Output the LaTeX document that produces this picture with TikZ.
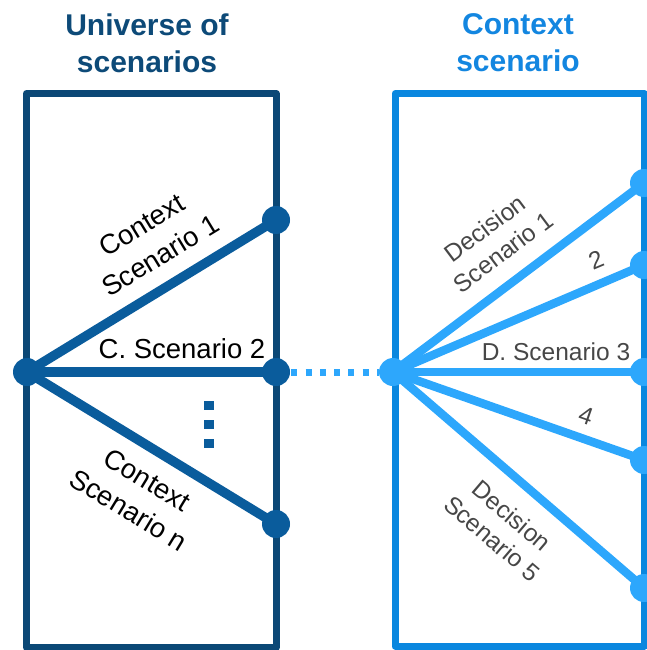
\documentclass[tikz,border=0pt]{standalone}
\usepackage{fontspec}
\setmainfont{Liberation Sans}
\usetikzlibrary{backgrounds}
\definecolor{darkframe}{HTML}{0B4876}
\definecolor{darkline}{HTML}{0A5C9C}
\definecolor{lightframe}{HTML}{0A87DF}
\definecolor{lightline}{HTML}{2DA7FC}
\definecolor{titledark}{HTML}{0D4A78}
\definecolor{titlelight}{HTML}{1386E0}
\definecolor{labelgray}{HTML}{474747}
\tikzset{
  x=1pt, y=-1pt,
  darkdot/.style={circle, fill=darkline, inner sep=0pt, minimum size=28pt},
  lightdot/.style={circle, fill=lightline, inner sep=0pt, minimum size=28pt},
  darkconn/.style={draw=darkline, line width=9.5pt},
  lightconn/.style={draw=lightline, line width=8.5pt},
  frameL/.style={draw=darkframe, line width=7pt, line join=round},
  frameR/.style={draw=lightframe, line width=7pt, line join=round},
  titlestyle/.style={align=center, inner sep=0pt, font=\fontsize{30}{37}\selectfont\bfseries},
  leftlabel/.style={align=center, inner sep=0pt, text=black, font=\fontsize{27.5}{36}\selectfont},
  rightlabel/.style={align=center, inner sep=0pt, text=labelgray, font=\fontsize{24.5}{30}\selectfont},
  vdot/.style={fill=darkline, inner sep=0pt, minimum width=10pt, minimum height=9pt},
}
\begin{document}
\begin{tikzpicture}
\useasboundingbox (0,0) rectangle (647,650);
% titles
\node[titlestyle, text=titledark] (tL) at (147,43) {Universe of\\scenarios};
\node[titlestyle, text=titlelight] (tR) at (518,43) {Context\\scenario};
% dots
\node[darkdot] (hubL) at (27,372) {};
\node[darkdot] (l1) at (276,220) {};
\node[darkdot] (l2) at (276,372) {};
\node[darkdot] (l3) at (276,524) {};
\node[lightdot] (hubR) at (393,372) {};
\node[lightdot] (r1) at (644,183) {};
\node[lightdot] (r2) at (644,265) {};
\node[lightdot] (r3) at (644,372) {};
\node[lightdot] (r4) at (644,460) {};
\node[lightdot] (r5) at (644,588) {};
% background: frames and connectors
\begin{scope}[on background layer]
  \draw[frameL] (26.5,93.5) rectangle (276,647.5);
  \draw[frameR] (395,93.5) rectangle (644,646);
  \draw[darkconn] (hubL.center) -- (l1.center);
  \draw[darkconn] (hubL.center) -- (l2.center);
  \draw[darkconn] (hubL.center) -- (l3.center);
  \draw[lightconn] (hubR.center) -- (r1.center);
  \draw[lightconn] (hubR.center) -- (r2.center);
  \draw[lightconn] (hubR.center) -- (r3.center);
  \draw[lightconn] (hubR.center) -- (r4.center);
  \draw[lightconn] (hubR.center) -- (r5.center);
  \draw[draw=lightline, line width=7pt, dash pattern=on 6pt off 8.3pt, dash phase=-1pt] (l2.east) -- (hubR.west);
\end{scope}
% vertical ellipsis
\node[vdot] (v1) at (209,405) {};
\node[vdot] (v2) at (209,424) {};
\node[vdot] (v3) at (209,443) {};
% left labels
\node[leftlabel, rotate=31.3] (lab1) at (151,240) {Context\\Scenario 1};
\node[leftlabel, anchor=base] (lab2) at (182,358) {C. Scenario 2};
\node[leftlabel, rotate=-31.3] (lab3) at (138,495) {Context\\Scenario n};
% right labels
\node[rightlabel, rotate=36.8] (rl1) at (494,240) {Decision\\Scenario 1};
\node[rightlabel, rotate=22.9] (rl2) at (596,260) {2};
\node[rightlabel, anchor=base] (rl3) at (556,360) {D. Scenario 3};
\node[rightlabel, rotate=-19.2] (rl4) at (586,416) {4};
\node[rightlabel, rotate=-40.5] (rl5) at (502,527) {Decision\\Scenario 5};
\end{tikzpicture}
\end{document}
